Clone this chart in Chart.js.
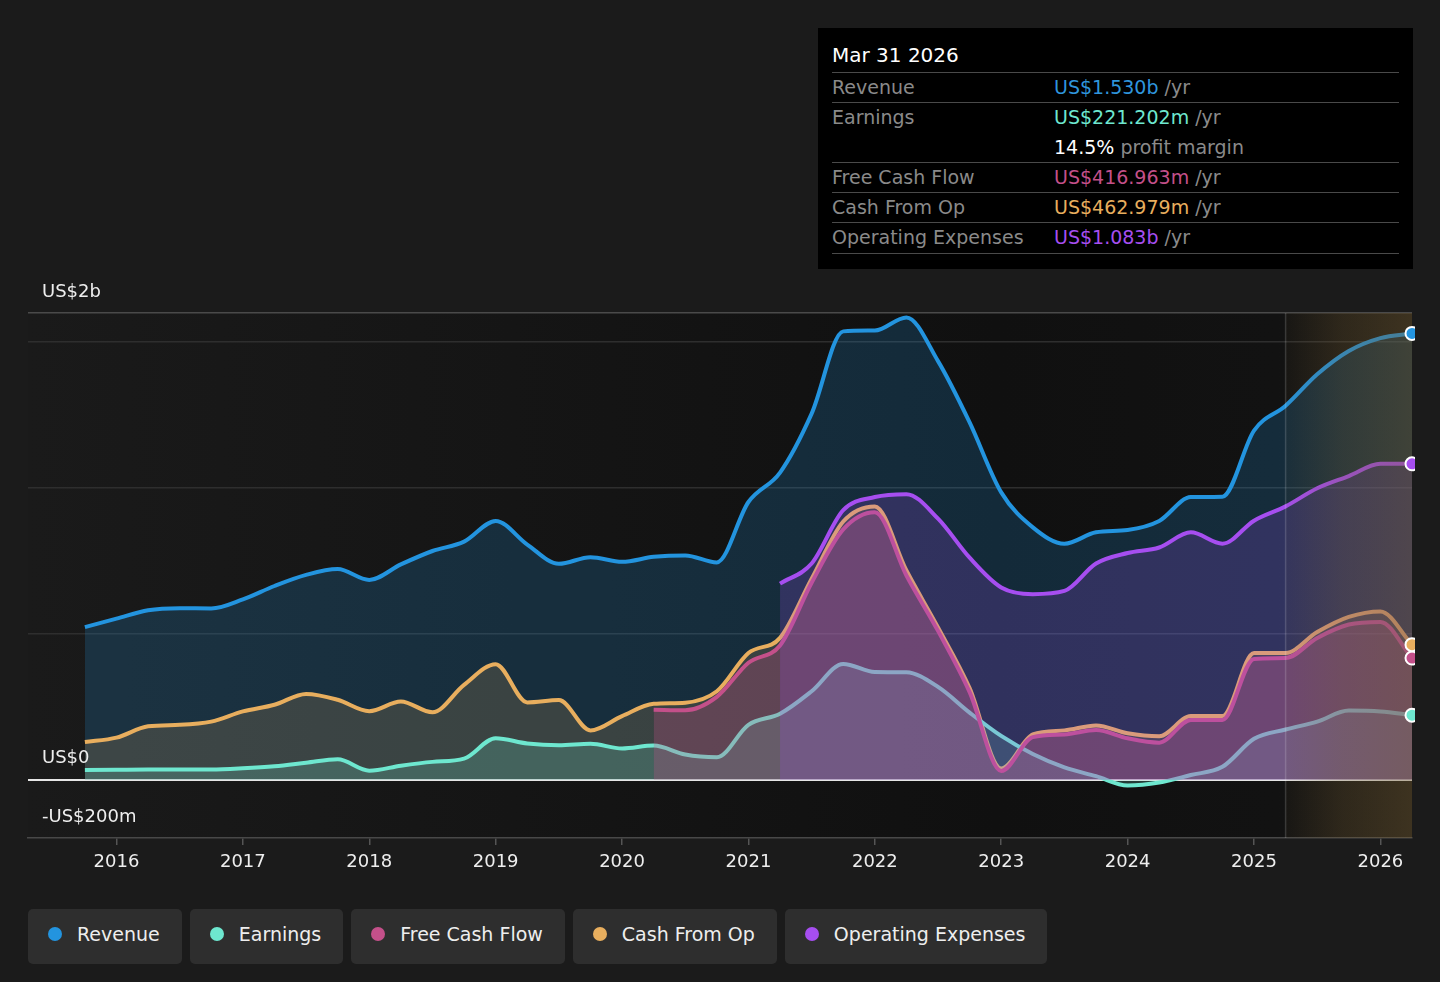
<!DOCTYPE html>
<html>
<head>
<meta charset="utf-8">
<script src="https://cdn.jsdelivr.net/npm/chart.js@4.4.1/dist/chart.umd.min.js"></script>
<style>
  html, body { margin: 0; padding: 0; width: 1440px; height: 982px; overflow: hidden; background: #1b1b1b; font-family: "DejaVu Sans", sans-serif; }
  #wrap { position: absolute; left: 0; top: 0; width: 1440px; height: 900px; }
  #tip { position: absolute; left: 818px; top: 28px; width: 567px; height: 227px; padding: 14px 14px 0 14px; background: #000; color: #8a8a8a; font-size: 19px; }
  #tip .head { color: #fff; font-size: 20px; height: 30px; line-height: 27px; border-bottom: 1.5px solid #4a4a4a; }
  #tip .row { display: flex; border-bottom: 1.5px solid #4a4a4a; line-height: 29.3px; }
  #tip .lab { width: 222px; }
  #legend { position: absolute; left: 28px; top: 909px; display: flex; gap: 8px; }
  #legend .item { height: 55px; box-sizing: border-box; padding: 0 22px 5px 20px; background: #2e2e2e; border-radius: 5px; display: flex; align-items: center; color: #eee; font-size: 19px; }
  #legend .dot { width: 14px; height: 14px; border-radius: 50%; margin-right: 15px; }
</style>
</head>
<body>
<div id="wrap"><canvas id="chart"></canvas></div>

<div id="tip">
  <div class="head">Mar 31 2026</div>
  <div class="row"><div class="lab">Revenue</div><div><span style="color:#2f95dc">US$1.530b</span> /yr</div></div>
  <div class="row"><div class="lab">Earnings</div><div><span style="color:#6ee7cf">US$221.202m</span> /yr<br><span style="color:#fff">14.5%</span> profit margin</div></div>
  <div class="row"><div class="lab">Free Cash Flow</div><div><span style="color:#c4508a">US$416.963m</span> /yr</div></div>
  <div class="row"><div class="lab">Cash From Op</div><div><span style="color:#e8ae5e">US$462.979m</span> /yr</div></div>
  <div class="row"><div class="lab">Operating Expenses</div><div><span style="color:#a64ef0">US$1.083b</span> /yr</div></div>
</div>

<div id="legend"></div>

<script>
// quarter ends as decimal years
const quarters = [2015.75,
  2016.0, 2016.25, 2016.5, 2016.75, 2017.0, 2017.25, 2017.5, 2017.75,
  2018.0, 2018.25, 2018.5, 2018.75, 2019.0, 2019.25, 2019.5, 2019.75,
  2020.0, 2020.25, 2020.5, 2020.75, 2021.0, 2021.25, 2021.5, 2021.75,
  2022.0, 2022.25, 2022.5, 2022.75, 2023.0, 2023.25, 2023.5, 2023.75,
  2024.0, 2024.25, 2024.5, 2024.75, 2025.0, 2025.25, 2025.5, 2025.75,
  2026.0, 2026.25];

// values in US$ billions, trailing twelve months
const revenue = [0.523,
  0.552, 0.581, 0.588, 0.587, 0.618, 0.664, 0.702, 0.722,
  0.685, 0.738, 0.784, 0.816, 0.887, 0.806, 0.740, 0.763,
  0.747, 0.764, 0.769, 0.745, 0.952, 1.053, 1.255, 1.537,
  1.540, 1.585, 1.435, 1.225, 0.985, 0.865, 0.809, 0.848,
  0.856, 0.887, 0.969, 0.970, 1.197, 1.282, 1.390, 1.470,
  1.514, 1.530];

const earnings = [0.033,
  0.034, 0.035, 0.035, 0.035, 0.039, 0.046, 0.058, 0.070,
  0.031, 0.048, 0.061, 0.072, 0.142, 0.124, 0.118, 0.123,
  0.107, 0.117, 0.086, 0.077, 0.188, 0.226, 0.303, 0.397,
  0.369, 0.368, 0.318, 0.230, 0.150, 0.088, 0.042, 0.012,
  -0.020, -0.010, 0.016, 0.044, 0.140, 0.172, 0.199, 0.237,
  0.234, 0.221];

const freeCashFlow = [null,
  null, null, null, null, null, null, null, null,
  null, null, null, null, null, null, null, null,
  null, 0.240, 0.238, 0.284, 0.401, 0.460, 0.675, 0.858,
  0.917, 0.700, 0.510, 0.300, 0.030, 0.146, 0.155, 0.170,
  0.142, 0.127, 0.205, 0.205, 0.414, 0.417, 0.486, 0.532,
  0.541, 0.417];

const cashFromOp = [0.129,
  0.144, 0.183, 0.188, 0.199, 0.234, 0.257, 0.294, 0.274,
  0.235, 0.268, 0.231, 0.325, 0.396, 0.265, 0.273, 0.169,
  0.218, 0.260, 0.264, 0.303, 0.434, 0.486, 0.689, 0.885,
  0.937, 0.717, 0.522, 0.314, 0.038, 0.155, 0.169, 0.186,
  0.159, 0.149, 0.218, 0.218, 0.434, 0.434, 0.506, 0.558,
  0.577, 0.463];

const operatingExpenses = [null,
  null, null, null, null, null, null, null, null,
  null, null, null, null, null, null, null, null,
  null, null, null, null, null, 0.672, 0.741, 0.924,
  0.969, 0.979, 0.895, 0.761, 0.659, 0.636, 0.647, 0.741,
  0.777, 0.796, 0.848, 0.809, 0.888, 0.937, 0.999, 1.041,
  1.083, 1.083];

const seriesNames = ["Revenue", "Earnings", "Free Cash Flow", "Cash From Op", "Operating Expenses"];
const seriesValues = [revenue, earnings, freeCashFlow, cashFromOp, operatingExpenses];
const seriesColors = ["#2394df", "#6ee7cf", "#c4508a", "#e8ae5e", "#a64ef0"];
const seriesFills = ["rgba(35,148,223,0.2)", "rgba(110,231,207,0.2)", "rgba(196,80,138,0.28)", "rgba(232,174,94,0.17)", "rgba(166,78,240,0.2)"];
// lower order draws on top
const seriesOrder = [5, 3, 2, 4, 1];

const xTickYears = [2016, 2017, 2018, 2019, 2020, 2021, 2022, 2023, 2024, 2025, 2026];
const yGridValues = [0, 0.5, 1, 1.5, 1.6];
const yLabelValues = [1.6, 0, -0.2];
const yLabelTexts = ["US$2b", "US$0", "-US$200m"];
const forecastStart = 2025.25;

// legend buttons
const legendEl = document.getElementById("legend");
seriesNames.forEach((name, i) => {
  const item = document.createElement("div");
  item.className = "item";
  item.innerHTML = `<span class="dot" style="background:${seriesColors[i]}"></span>${name}`;
  legendEl.appendChild(item);
});

// plot background
const bgPlugin = {
  id: "bg",
  beforeDraw(chart) {
    const { ctx, chartArea: a } = chart;
    const g = ctx.createLinearGradient(a.left, 0, a.right, 0);
    g.addColorStop(0, "#1a1a1a");
    g.addColorStop(0.35, "#151515");
    g.addColorStop(0.7, "#101010");
    g.addColorStop(1, "#131313");
    ctx.save();
    ctx.fillStyle = g;
    ctx.fillRect(a.left, a.top, a.right - a.left, a.bottom - a.top);
    ctx.restore();
  }
};

// forecast shading and end dots
const forecastPlugin = {
  id: "forecast",
  afterDatasetsDraw(chart) {
    const { ctx, chartArea: a, scales } = chart;
    const x0 = scales.x.getPixelForValue(forecastStart);
    ctx.save();
    const g = ctx.createLinearGradient(x0, 0, a.right, 0);
    g.addColorStop(0, "rgba(120,95,50,0.06)");
    g.addColorStop(0.45, "rgba(120,95,50,0.28)");
    g.addColorStop(1, "rgba(120,95,50,0.42)");
    ctx.fillStyle = g;
    ctx.fillRect(x0, a.top, a.right - x0, a.bottom - a.top);
    ctx.strokeStyle = "rgba(255,255,255,0.16)";
    ctx.lineWidth = 1.5;
    ctx.beginPath();
    ctx.moveTo(x0, a.top);
    ctx.lineTo(x0, a.bottom);
    ctx.stroke();

    ctx.beginPath();
    ctx.rect(a.left, a.top - 10, a.right - a.left + 3, a.bottom - a.top + 20);
    ctx.clip();
    chart.data.datasets.forEach((ds, i) => {
      const pts = chart.getDatasetMeta(i).data;
      const p = pts[pts.length - 1];
      ctx.beginPath();
      ctx.arc(p.x, p.y, 6.5, 0, Math.PI * 2);
      ctx.fillStyle = ds.borderColor;
      ctx.fill();
      ctx.lineWidth = 2;
      ctx.strokeStyle = "#fff";
      ctx.stroke();
    });
    ctx.restore();
  }
};

// value labels sitting above their lines
const yLabelPlugin = {
  id: "ylabels",
  afterDraw(chart) {
    const { ctx, chartArea: a, scales } = chart;
    ctx.save();
    ctx.font = "18px 'DejaVu Sans'";
    ctx.fillStyle = "#eeeeee";
    ctx.textBaseline = "middle";
    yLabelValues.forEach((v, i) => {
      ctx.fillText(yLabelTexts[i], a.left + 14, scales.y.getPixelForValue(v) - 21);
    });
    ctx.restore();
  }
};

Chart.defaults.font.family = "'DejaVu Sans', sans-serif";

const datasets = seriesNames.map((name, i) => ({
  label: name,
  data: quarters.map((q, k) => ({ x: q, y: seriesValues[i][k] })),
  borderColor: seriesColors[i],
  backgroundColor: seriesFills[i],
  borderWidth: 4,
  pointRadius: 0,
  fill: "origin",
  cubicInterpolationMode: "monotone",
  order: seriesOrder[i]
}));

new Chart(document.getElementById("chart"), {
  type: "line",
  data: { datasets },
  options: {
    responsive: true,
    maintainAspectRatio: false,
    animation: false,
    layout: { padding: { left: 28, right: 28, top: 313, bottom: 0 } },
    plugins: { legend: { display: false }, tooltip: { enabled: false } },
    scales: {
      x: {
        type: "linear",
        min: 2015.3,
        max: 2026.25,
        afterBuildTicks: s => { s.ticks = xTickYears.map(v => ({ value: v })); },
        afterFit: s => { s.height = 62; },
        ticks: { color: "#eeeeee", font: { size: 18 }, padding: 7, callback: v => String(v) },
        grid: { drawOnChartArea: false, drawTicks: true, tickLength: 7, color: "#555", lineWidth: 1.5 },
        border: { display: true, color: "#484848", width: 1.5 }
      },
      y: {
        min: -0.2,
        max: 1.6,
        afterBuildTicks: s => { s.ticks = yGridValues.map(v => ({ value: v })); },
        afterFit: s => { s.width = 0; },
        ticks: { display: false },
        border: { display: false },
        grid: {
          drawTicks: false,
          color: c => c.tick.value === 0 ? "#e6e6e6" : (c.tick.value === 1.6 ? "#4a4a4a" : "#2e2e2e"),
          lineWidth: c => c.tick.value === 0 ? 2 : 1.5
        }
      }
    }
  },
  plugins: [bgPlugin, forecastPlugin, yLabelPlugin]
});
</script>
</body>
</html>
